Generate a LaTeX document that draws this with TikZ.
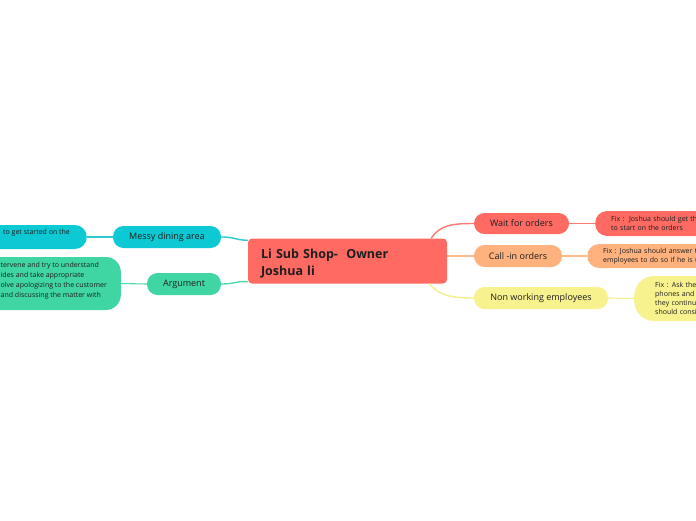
\documentclass[tikz,border=0pt]{standalone}
\usepackage{fontspec}
\setmainfont{Open Sans}
\definecolor{rootred}{HTML}{FF6A62}
\definecolor{redc}{HTML}{FF6A62}
\definecolor{orangec}{HTML}{FFB27D}
\definecolor{yellowc}{HTML}{F8F28E}
\definecolor{cyanc}{HTML}{0CC9D3}
\definecolor{greenc}{HTML}{3FD6A4}
\definecolor{txt}{HTML}{1E1E1E}
\definecolor{redl}{HTML}{FF7A72}
\definecolor{orangel}{HTML}{FFBA8C}
\definecolor{yellowl}{HTML}{F5EE8C}
\definecolor{cyanl}{HTML}{2CCAD3}
\definecolor{greenl}{HTML}{52D9AC}
\tikzset{
  rootbox/.style={fill=rootred, draw=none, rounded corners=4pt, text width=173pt,
    inner xsep=13pt, inner ysep=0pt, minimum height=45pt, align=left, text=txt,
    font=\fontsize{12.5}{17}\selectfont\bfseries},
  branch/.style={draw=none, rounded corners=10.5pt, inner sep=0pt, text=txt,
    font=\fontsize{9}{11}\selectfont},
  leaf/.style={draw=none, inner ysep=0pt, align=left, text=txt,
    font=\fontsize{7}{9}\selectfont},
  leafshape/.style={draw=none, inner sep=0pt},
  leaftext/.style={inner sep=0pt, align=left, text=txt, anchor=west,
    font=\fontsize{7}{9}\selectfont},
  conn/.style={line width=1.4pt},
  leafconn/.style={line width=1.1pt}
}
\begin{document}
\begin{tikzpicture}[x=1pt,y=-1pt]
\useasboundingbox (0,0) rectangle (696,520);
\clip (0,0) rectangle (696,520);
\fill[white] (0,0) rectangle (696,520);

% root
\node[rootbox] (root) at (347.5,261) {\rule{0pt}{15pt}Li Sub Shop-\ \ Owner\\Joshua li};

% branches
\node[branch, fill=cyanc, minimum width=108pt, minimum height=22pt] (messy) at (167,237) {Messy dining area};
\node[branch, fill=greenc, minimum width=74pt, minimum height=22pt] (arg) at (184,284) {Argument};
\node[branch, fill=redc, minimum width=95pt, minimum height=21pt] (wait) at (521.5,223.5) {Wait for orders};
\node[branch, fill=orangec, minimum width=88pt, minimum height=22pt] (call) at (518,256) {Call -in orders};
\node[branch, fill=yellowc, minimum width=134pt, minimum height=22pt] (nonw) at (541,298) {Non working employees};

% left leaves (extend past the left edge)
\node[leafshape, fill=cyanc, rounded corners=12pt, minimum width=120pt, minimum height=24pt, anchor=east] (lcyan) at (87,237) {};
\node[leaftext] (tcyan) at (3,232.5) {to get started on the};
\node[leafshape, fill=greenc, rounded corners=15pt, minimum width=150pt, minimum height=53pt, anchor=east] (lgreen) at (121,283.5) {};
\node[leaftext, font=\fontsize{7}{9.8}\selectfont] (tgreen) at (0.5,280.5) {tervene and try to understand\\ides and take appropriate\\olve apologizing to the customer\\and discussing the matter with};

% right leaves (extend past the right edge)
\node[leaf, fill=redc, rounded corners=12pt, anchor=west, inner xsep=16pt, text width=150pt, minimum height=25pt] (lred) at (595,223.5) {Fix :\ \ Joshua should get th\\to start on the orders};
\node[leaf, fill=orangec, rounded corners=12pt, anchor=west, inner xsep=16pt, text width=150pt, minimum height=24pt] (lorange) at (587,256) {Fix : Joshua should answer th\\employees to do so if he is u};
\node[leaf, fill=yellowc, rounded corners=20pt, anchor=west, inner xsep=21pt, text width=120pt, minimum height=45pt] (lyellow) at (634,298.5) {Fix : Ask the e\\phones and n\\they continu\\should consi};

% root connectors
\draw[conn, draw=cyanl] (messy.east) .. controls (236,237) and (234,240) .. ([yshift=-2pt]root.north west);
\draw[conn, draw=greenl] (arg.east) .. controls (236,284) and (234,281) .. ([yshift=2pt]root.south west);
\draw[conn, draw=redl] ([xshift=-16pt]root.north east) .. controls (440,225) and (452,223.5) .. (wait.west);
\draw[conn, draw=orangel] (root.east |- call.west) -- (call.west);
\draw[conn, draw=yellowl] ([xshift=-18pt]root.south east) .. controls (440,296) and (452,298) .. (nonw.west);

% leaf connectors
\draw[leafconn, draw=cyanl] (messy.west) -- (lcyan.east);
\draw[leafconn, draw=greenl] (arg.west) -- (lgreen.east);
\draw[leafconn, draw=redl] (wait.east) -- (lred.west);
\draw[leafconn, draw=orangel] (call.east) -- (lorange.west);
\draw[leafconn, draw=yellowl] (nonw.east) -- (lyellow.west);
\end{tikzpicture}
\end{document}
